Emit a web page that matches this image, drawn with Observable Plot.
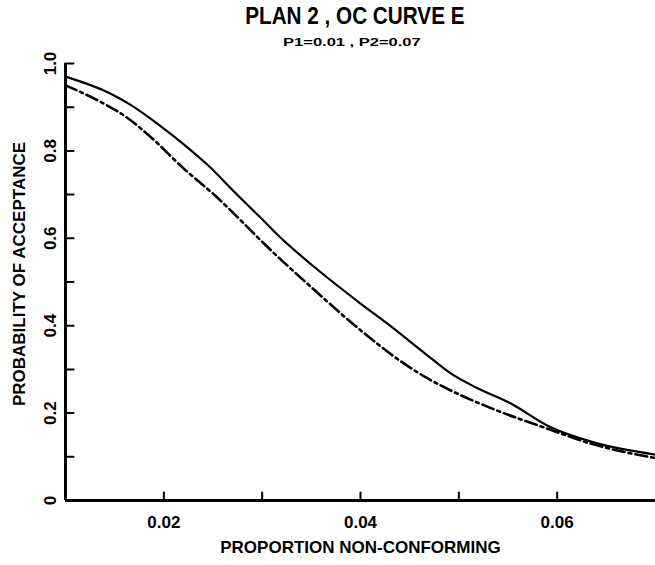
<!DOCTYPE html>
<html>
<head>
<meta charset="utf-8">
<script src="https://cdn.jsdelivr.net/npm/d3@7"></script>
<script src="https://cdn.jsdelivr.net/npm/@observablehq/plot@0.6"></script>
<style>
  html, body { margin: 0; padding: 0; background: #fff; }
  #wrap { width: 655px; height: 565px; position: relative; overflow: hidden; font-family: "Liberation Sans", Arial, sans-serif; color: #000; }
  #head { position: relative; width: 655px; height: 50px; }
  #title { position: absolute; left: 0; width: 710px; top: 5px; text-align: center; font-size: 23px; font-weight: bold; line-height: 23px; }
  #title span, #sub span { display: inline-block; }
  #title span { transform: scaleX(0.9); }
  #sub { position: absolute; left: 0; width: 704px; top: 37px; text-align: center; font-size: 11px; font-weight: bold; line-height: 11px; }
  #sub span { transform: scaleX(1.5); }
  svg { display: block; }
</style>
</head>
<body>
<div id="wrap">
  <div id="head"><div id="title"><span></span></div><div id="sub"><span></span></div></div>
  <div id="chart"></div>
</div>
<script>
const titleText = "PLAN 2 , OC CURVE E";
const subtitleText = "P1=0.01 , P2=0.07";
const xTitle = "PROPORTION NON-CONFORMING";
const yTitle = "PROBABILITY OF ACCEPTANCE";

const xDomain = [0.01, 0.07];
const yDomain = [0, 1];
const xTicks = [0.02, 0.03, 0.04, 0.05, 0.06];
const xTickLabels = [0.02, 0.04, 0.06];
const yTicks = [0.1, 0.2, 0.3, 0.4, 0.5, 0.6, 0.7, 0.8, 0.9, 1.0];
const yTickLabels = [0, 0.2, 0.4, 0.6, 0.8, 1.0];

// Solid curve
const solidX = [0.010, 0.0145, 0.0165, 0.0196, 0.0223, 0.0245, 0.0270, 0.0298, 0.0318, 0.0350, 0.0399, 0.0430, 0.0467, 0.0491, 0.0518, 0.0552, 0.0593, 0.0637, 0.0700];
const solidY = [0.970, 0.932, 0.907, 0.858, 0.810, 0.767, 0.710, 0.648, 0.603, 0.540, 0.4525, 0.400, 0.334, 0.292, 0.258, 0.223, 0.168, 0.133, 0.105];
// Dash-dot curve
const dashX = [0.010, 0.0135, 0.0162, 0.0186, 0.0220, 0.0254, 0.0284, 0.0300, 0.0350, 0.0402, 0.0440, 0.0467, 0.0500, 0.0541, 0.0588, 0.0636, 0.0700];
const dashY = [0.950, 0.913, 0.877, 0.833, 0.760, 0.694, 0.628, 0.592, 0.488, 0.386, 0.320, 0.281, 0.243, 0.204, 0.166, 0.129, 0.097];

document.querySelector("#title span").textContent = titleText;
document.querySelector("#sub span").textContent = subtitleText;

const solid = solidX.map((x, i) => ({x, y: solidY[i]}));
const dash = dashX.map((x, i) => ({x, y: dashY[i]}));

const tickShape = {draw(context, l) { context.moveTo(0, 0); context.lineTo(0, -l); }};
const fmtY = d => d === 0 ? "0" : d.toFixed(1);
const fmtX = d => d.toFixed(2);
const font = {fontFamily: "Liberation Sans, Arial, sans-serif", fontWeight: "bold", fill: "#000"};

const chart = Plot.plot({
  width: 655,
  height: 515,
  marginTop: 13,
  marginBottom: 65,
  marginLeft: 65,
  marginRight: 0,
  x: {domain: xDomain, axis: null},
  y: {domain: yDomain, axis: null},
  style: {background: "#fff", overflow: "visible"},
  marks: [
    Plot.ruleX([xDomain[0]], {stroke: "#000", strokeWidth: 3}),
    Plot.ruleY([yDomain[0]], {stroke: "#000", strokeWidth: 3}),
    Plot.vector(yTicks, {x: xDomain[0], y: d => d, length: 8, rotate: 90, anchor: "start", shape: tickShape, stroke: "#000", strokeWidth: 2}),
    Plot.vector(xTicks, {x: d => d, y: yDomain[0], length: 8, rotate: 0, anchor: "start", shape: tickShape, stroke: "#000", strokeWidth: 2}),
    Plot.text(yTickLabels, {x: xDomain[0], y: d => d, text: fmtY, rotate: -90, dx: -15, fontSize: 17, ...font}),
    Plot.text(xTickLabels, {x: d => d, y: yDomain[0], text: fmtX, dy: 22, fontSize: 17, ...font}),
    Plot.text([yTitle], {frameAnchor: "left", text: d => d, rotate: -90, textAnchor: "middle", lineAnchor: "middle", dx: -46, dy: -8, fontSize: 17, ...font}),
    Plot.text([xTitle], {frameAnchor: "bottom", text: d => d, textAnchor: "middle", lineAnchor: "middle", dy: 47, fontSize: 17, ...font}),
    Plot.line(solid, {x: "x", y: "y", stroke: "#000", strokeWidth: 2.2, curve: "monotone-x"}),
    Plot.line(dash, {x: "x", y: "y", stroke: "#000", strokeWidth: 2.6, strokeDasharray: "12,4,3,4", curve: "monotone-x"})
  ]
});
document.getElementById("chart").appendChild(chart);
</script>
</body>
</html>
